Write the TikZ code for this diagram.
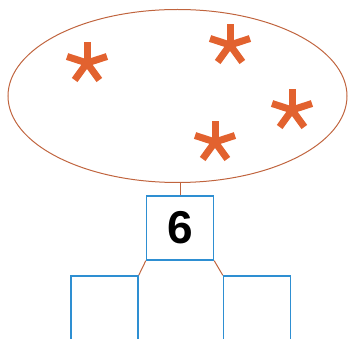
\documentclass[tikz,border=0pt]{standalone}
\usepackage{fontspec}
\setmainfont{Liberation Sans}
\usetikzlibrary{shapes.geometric}
\definecolor{rim}{HTML}{C0643E}
\definecolor{starfill}{HTML}{E2622F}
\definecolor{boxblue}{HTML}{2E8FD2}
\tikzset{
  numbox/.style={draw=boxblue,line width=1.4pt,minimum width=67pt,minimum height=64pt,inner sep=0pt},
  link/.style={draw=rim,line width=1pt}
}
\begin{document}
\begin{tikzpicture}[x=1pt,y=-1pt]
   \useasboundingbox (0,0) rectangle (348,339);
   \clip (0,0) rectangle (348,339);
   \node[ellipse,draw=rim,line width=1pt,minimum width=339pt,minimum height=173pt,inner sep=0pt]
     (set) at (177.5,96) {};
   % the four stars
   \foreach \px/\py in {87/63, 230/45, 292/110, 215/142}
     \foreach \ang in {90,18,162,234,306}
       \draw[starfill,line width=7pt] (\px,\py) -- ++(\ang:-21);
   \node[numbox] (six) at (180,228) {\fontsize{46}{46}\selectfont\bfseries 6};
   \node[numbox,minimum height=68pt] (left) at (104.5,310) {};
   \node[numbox,minimum height=68pt] (right) at (257,310) {};
   \draw[link] (six.north) -- (six.north |- set.south);
   \draw[link] (six.south west) -- (left.north east);
   \draw[link] (six.south east) -- (right.north west);
 \end{tikzpicture}
\end{document}
